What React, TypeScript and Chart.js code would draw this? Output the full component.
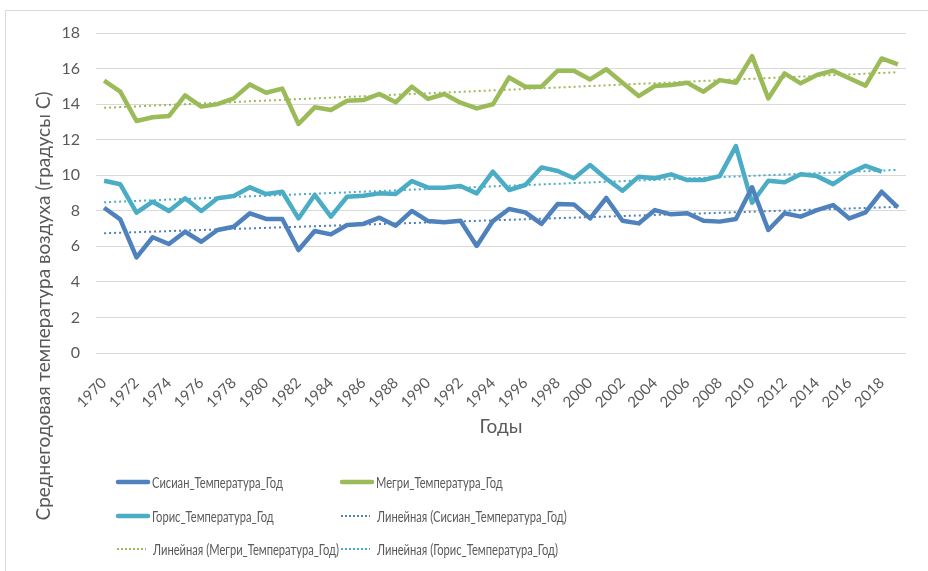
import React, { useEffect, useRef } from "react";
import { Chart, registerables } from "chart.js";

Chart.register(...registerables);

const years = [
  "1970", "1971", "1972", "1973", "1974", "1975", "1976", "1977", "1978", "1979",
  "1980", "1981", "1982", "1983", "1984", "1985", "1986", "1987", "1988", "1989",
  "1990", "1991", "1992", "1993", "1994", "1995", "1996", "1997", "1998", "1999",
  "2000", "2001", "2002", "2003", "2004", "2005", "2006", "2007", "2008", "2009",
  "2010", "2011", "2012", "2013", "2014", "2015", "2016", "2017", "2018", "2019",
];

const sisian = [
  8.17, 7.52, 5.38, 6.51, 6.13, 6.82, 6.26, 6.92, 7.1, 7.86,
  7.54, 7.54, 5.79, 6.86, 6.67, 7.2, 7.26, 7.61, 7.16, 7.99,
  7.42, 7.35, 7.44, 6.02, 7.42, 8.1, 7.91, 7.26, 8.38, 8.36,
  7.57, 8.72, 7.44, 7.29, 8.04, 7.8, 7.86, 7.44, 7.39, 7.54,
  9.32, 6.92, 7.86, 7.67, 8.04, 8.32, 7.57, 7.91, 9.07, 8.19,
];

const megri = [
  15.32, 14.7, 13.05, 13.26, 13.33, 14.49, 13.86, 14.0, 14.32, 15.11,
  14.64, 14.87, 12.88, 13.82, 13.67, 14.19, 14.23, 14.57, 14.1, 14.98,
  14.29, 14.57, 14.08, 13.76, 13.99, 15.5, 14.98, 14.98, 15.88, 15.88,
  15.39, 15.96, 15.2, 14.45, 15.02, 15.07, 15.2, 14.7, 15.35, 15.2,
  16.7, 14.32, 15.73, 15.17, 15.64, 15.88, 15.45, 15.04, 16.57, 16.24,
];

const goris: (number | null)[] = [
  9.69, 9.49, 7.89, 8.51, 7.99, 8.7, 7.99, 8.7, 8.83, 9.32,
  8.94, 9.07, 7.57, 8.89, 7.67, 8.79, 8.85, 8.98, 8.94, 9.67,
  9.3, 9.3, 9.39, 8.98, 10.2, 9.17, 9.45, 10.44, 10.24, 9.83,
  10.57, 9.8, 9.13, 9.92, 9.83, 10.05, 9.73, 9.73, 9.95, 11.64,
  8.45, 9.69, 9.6, 10.05, 9.95, 9.5, 10.1, 10.53, 10.2, null,
];

const seriesNames = [
  "Сисиан_Температура_Год",
  "Мегри_Температура_Год",
  "Горис_Температура_Год",
];
const trendPrefix = "Линейная";
const xTitle = "Годы";
const yTitle = "Среднегодовая температура воздуха (градусы С)";

const BLUE = "#4F81BD";
const GREEN = "#9BBB59";
const AQUA = "#4BACC6";
const TEXT = "#595959";
const GRID = "#d9d9d9";
const FONT = "Lato, 'Noto Sans', sans-serif";

// least-squares linear trendline (like Excel's "Линейная" trendline)
function linearTrend(values: (number | null)[]): number[] {
  let n = 0, sx = 0, sy = 0, sxx = 0, sxy = 0;
  values.forEach((v, i) => {
    if (v == null) return;
    n++; sx += i; sy += v; sxx += i * i; sxy += i * v;
  });
  const b = (n * sxy - sx * sy) / (n * sxx - sx * sx);
  const a = (sy - b * sx) / n;
  return values.map((_, i) => a + b * i);
}

const legendPlugin = {
  id: "gridLegend",
  afterDraw(chart: any) {
    const ctx = chart.ctx;
    const ds = chart.data.datasets;
    const cols = [116, 340];
    const rows = [482, 516, 549];
    ctx.save();
    ds.forEach((d: any, k: number) => {
      const x = cols[k % 2];
      const y = rows[Math.floor(k / 2)];
      const isDotted = d.borderDash && d.borderDash.length;
      ctx.save();
      ctx.strokeStyle = d.borderColor;
      if (isDotted) {
        ctx.lineWidth = 2;
        ctx.setLineDash([2, 2]);
        ctx.beginPath();
        ctx.moveTo(x + 1, y);
        ctx.lineTo(x + 30, y);
        ctx.stroke();
      } else {
        ctx.lineWidth = 4.5;
        ctx.lineCap = "round";
        ctx.beginPath();
        ctx.moveTo(x + 2, y);
        ctx.lineTo(x + 32, y);
        ctx.stroke();
      }
      ctx.restore();
      // condensed legend text, as in the reference
      ctx.save();
      ctx.translate(x + (isDotted ? 37 : 36), y + 1);
      ctx.scale(0.72, 1);
      ctx.font = `15.5px ${FONT}`;
      ctx.fillStyle = TEXT;
      ctx.textBaseline = "middle";
      ctx.fillText(d.label, 0, 0);
      ctx.restore();
    });
    // y axis title, centred on the whole chart height as in the reference
    ctx.save();
    ctx.translate(44, 306);
    ctx.rotate(-Math.PI / 2);
    ctx.textAlign = "center";
    ctx.textBaseline = "middle";
    ctx.fillStyle = TEXT;
    ctx.font = `19px ${FONT}`;
    ctx.fillText(yTitle, 0, 0);
    ctx.restore();
    // outer frame (top and left edges visible)
    ctx.strokeStyle = GRID;
    ctx.lineWidth = 1;
    ctx.beginPath();
    ctx.moveTo(5.5, 571);
    ctx.lineTo(5.5, 10.5);
    ctx.lineTo(928, 10.5);
    ctx.stroke();
    ctx.restore();
  },
};

export default function App() {
  const ref = useRef<HTMLCanvasElement | null>(null);

  useEffect(() => {
    if (!ref.current) return;
    const solid = (label: string, data: (number | null)[], color: string) => ({
      label,
      data,
      borderColor: color,
      backgroundColor: color,
      borderWidth: 4.5,
      pointRadius: 0,
      tension: 0,
      spanGaps: false,
      borderJoinStyle: "round" as const,
    });
    const dotted = (label: string, data: number[], color: string) => ({
      label,
      data,
      borderColor: color,
      backgroundColor: color,
      borderWidth: 2,
      borderDash: [2, 3],
      pointRadius: 0,
      tension: 0,
    });
    const chart = new Chart(ref.current, {
      type: "line",
      data: {
        labels: years,
        datasets: [
          solid(seriesNames[0], sisian, BLUE),
          solid(seriesNames[1], megri, GREEN),
          solid(seriesNames[2], goris, AQUA),
          dotted(`${trendPrefix} (${seriesNames[0]})`, linearTrend(sisian), BLUE),
          dotted(`${trendPrefix} (${seriesNames[1]})`, linearTrend(megri), GREEN),
          dotted(`${trendPrefix} (${seriesNames[2]})`, linearTrend(goris), AQUA),
        ] as any,
      },
      options: {
        animation: false,
        responsive: false,
        maintainAspectRatio: false,
        layout: { padding: { top: 33, right: 22, bottom: 131, left: 0 } },
        plugins: {
          legend: { display: false },
          tooltip: { enabled: false },
        },
        scales: {
          x: {
            offset: true,
            grid: { display: false },
            border: { display: false },
            ticks: {
              autoSkip: false,
              maxRotation: 45,
              minRotation: 45,
              color: TEXT,
              font: { family: FONT, size: 15 },
              padding: 13,
              callback: (_v: any, i: number) => (i % 2 === 0 ? years[i] : ""),
            },
            title: {
              display: true,
              text: xTitle,
              color: TEXT,
              font: { family: FONT, size: 19 },
              padding: { top: 2, bottom: 2 },
            },
            afterFit: (s: any) => {
              s.height = 87;
            },
          },
          y: {
            min: 0,
            max: 18,
            grid: { color: GRID, lineWidth: 1, drawTicks: false },
            border: { display: false },
            ticks: {
              stepSize: 2,
              color: TEXT,
              font: { family: FONT, size: 16 },
              padding: 16,
            },
            afterFit: (s: any) => {
              s.width = 96;
            },
          },
        },
      },
      plugins: [legendPlugin],
    });
    return () => chart.destroy();
  }, []);

  return (
    <div style={{ position: "fixed", left: 0, top: 0, width: 928, height: 571, background: "#fff" }}>
      <canvas ref={ref} width={928} height={571} style={{ width: 928, height: 571, display: "block" }} />
    </div>
  );
}
